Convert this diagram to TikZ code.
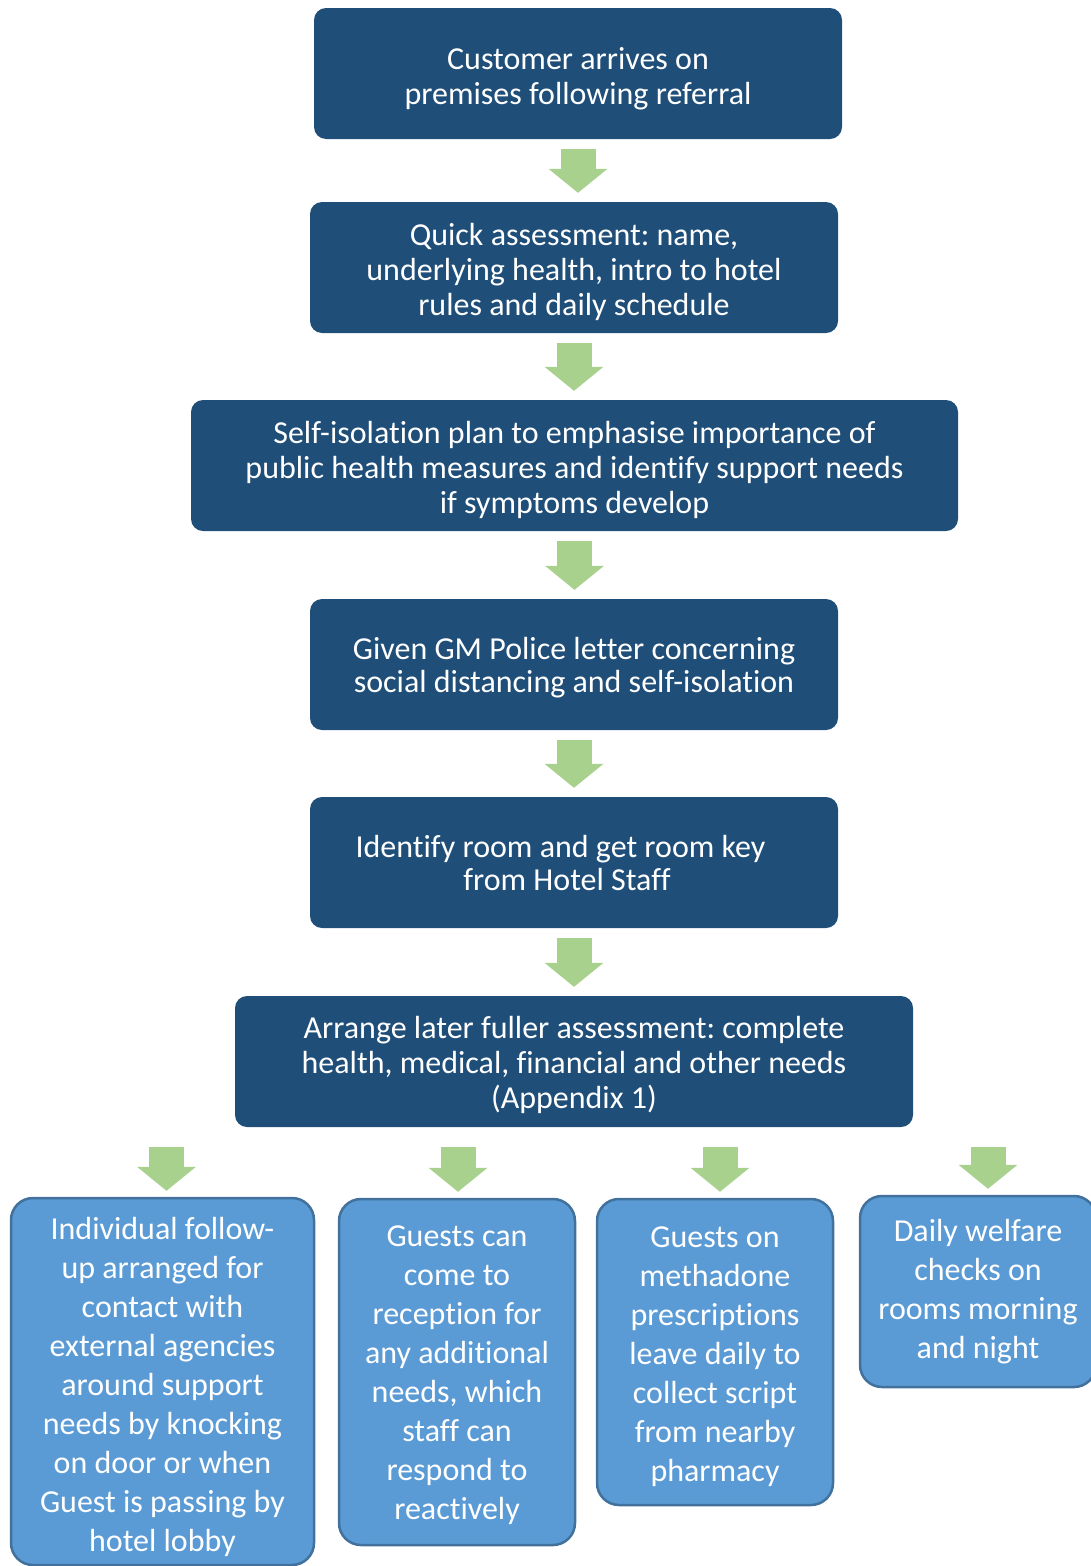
\documentclass[tikz,border=0pt]{standalone}
\usepackage{fontspec}
\setmainfont{Carlito}[Ligatures=NoCommon,Contextuals=NoAlternate]
\usetikzlibrary{arrows.meta}
\frenchspacing

\definecolor{stepblue}{HTML}{1F4E79}
\definecolor{subblue}{HTML}{5B9BD5}
\definecolor{subline}{HTML}{41719C}
\definecolor{arrowgreen}{HTML}{A9D18E}

% first line strut, pushes the text a bit lower in its box
\newcommand{\toplift}[1]{\rule{0pt}{#1}}

\tikzset{
  stepbox/.style={fill=stepblue, rounded corners=12pt, text=white, align=center,
    inner sep=0pt, font=\fontsize{32}{35}\selectfont},
  subbox/.style={draw=subline, line width=2.5pt, fill=subblue, rounded corners=22pt,
    text=white, align=center, inner sep=0pt, font=\fontsize{32}{39}\selectfont},
  bigarrow/.style={draw=arrowgreen, line width=35pt,
    -{Triangle[length=24pt,width=59pt,line width=0pt]}}
}

\begin{document}
\begin{tikzpicture}[x=1pt,y=-1pt]
  \useasboundingbox (0,0) rectangle (1090,1566);
  % main steps
  \node[stepbox, minimum width=528pt, minimum height=131pt] (arrive) at (578,73.5)
    {\toplift{32pt}Customer arrives on\\premises following referral};
  \node[stepbox, minimum width=528pt, minimum height=131pt] (quick) at (574,267.5)
    {\toplift{31pt}Quick assessment: name,\\underlying health, intro to hotel\\rules and daily schedule};
  \node[stepbox, minimum width=767pt, minimum height=131pt] (isolate) at (574.5,465.5)
    {\toplift{31pt}Self-isolation plan to emphasise importance of\\public health measures and identify support needs\\if symptoms develop};
  \node[stepbox, minimum width=528pt, minimum height=131pt, font=\fontsize{32}{33}\selectfont] (letter) at (574,664.5)
    {\toplift{29pt}Given GM Police letter concerning\\social distancing and self-isolation};
  \node[stepbox, minimum width=528pt, minimum height=131pt, font=\fontsize{32}{33}\selectfont] (room) at (574,862.5)
    {Identify room and get room key\hspace*{27pt}\\from Hotel Staff\hspace*{14pt}};
  \node[stepbox, minimum width=678pt, minimum height=131pt] (later) at (574,1061.5)
    {\toplift{30pt}Arrange later fuller assessment: complete\\health, medical, financial and other needs\\(Appendix 1)};

  % follow-up boxes
  \node[subbox, minimum width=303pt, minimum height=367pt] (follow) at (162.5,1381.5)
    {\toplift{33pt}Individual follow-\\up arranged for\\contact with\\external agencies\\around support\\needs by knocking\\on door or when\\Guest is passing by\\hotel lobby};
  \node[subbox, minimum width=236pt, minimum height=346pt] (reception) at (457,1372)
    {\toplift{27pt}Guests can\\come to\\reception for\\any additional\\needs, which\\staff can\\respond to\\reactively};
  \node[subbox, minimum width=236pt, minimum height=306pt] (methadone) at (715,1352)
    {\toplift{31pt}Guests on\\methadone\\prescriptions\\leave daily to\\collect script\\from nearby\\pharmacy};
  \node[subbox, minimum width=236pt, minimum height=191pt] (welfare) at (978,1291.5)
    {Daily welfare\\checks on\\rooms morning\\and night};

  % green arrows
  \foreach \a/\b in {arrive/quick,quick/isolate,isolate/letter,letter/room,room/later}
    \draw[bigarrow, shorten <=10pt, shorten >=9pt] (\a.south) -- (\a.south |- \b.north);
  \foreach \b/\dx in {follow/4,reception/1,methadone/5,welfare/10}
    \draw[bigarrow, shorten <=20pt, shorten >=6pt]
      ([xshift=\dx pt]\b.north |- later.south) -- ([xshift=\dx pt]\b.north);
\end{tikzpicture}
\end{document}
